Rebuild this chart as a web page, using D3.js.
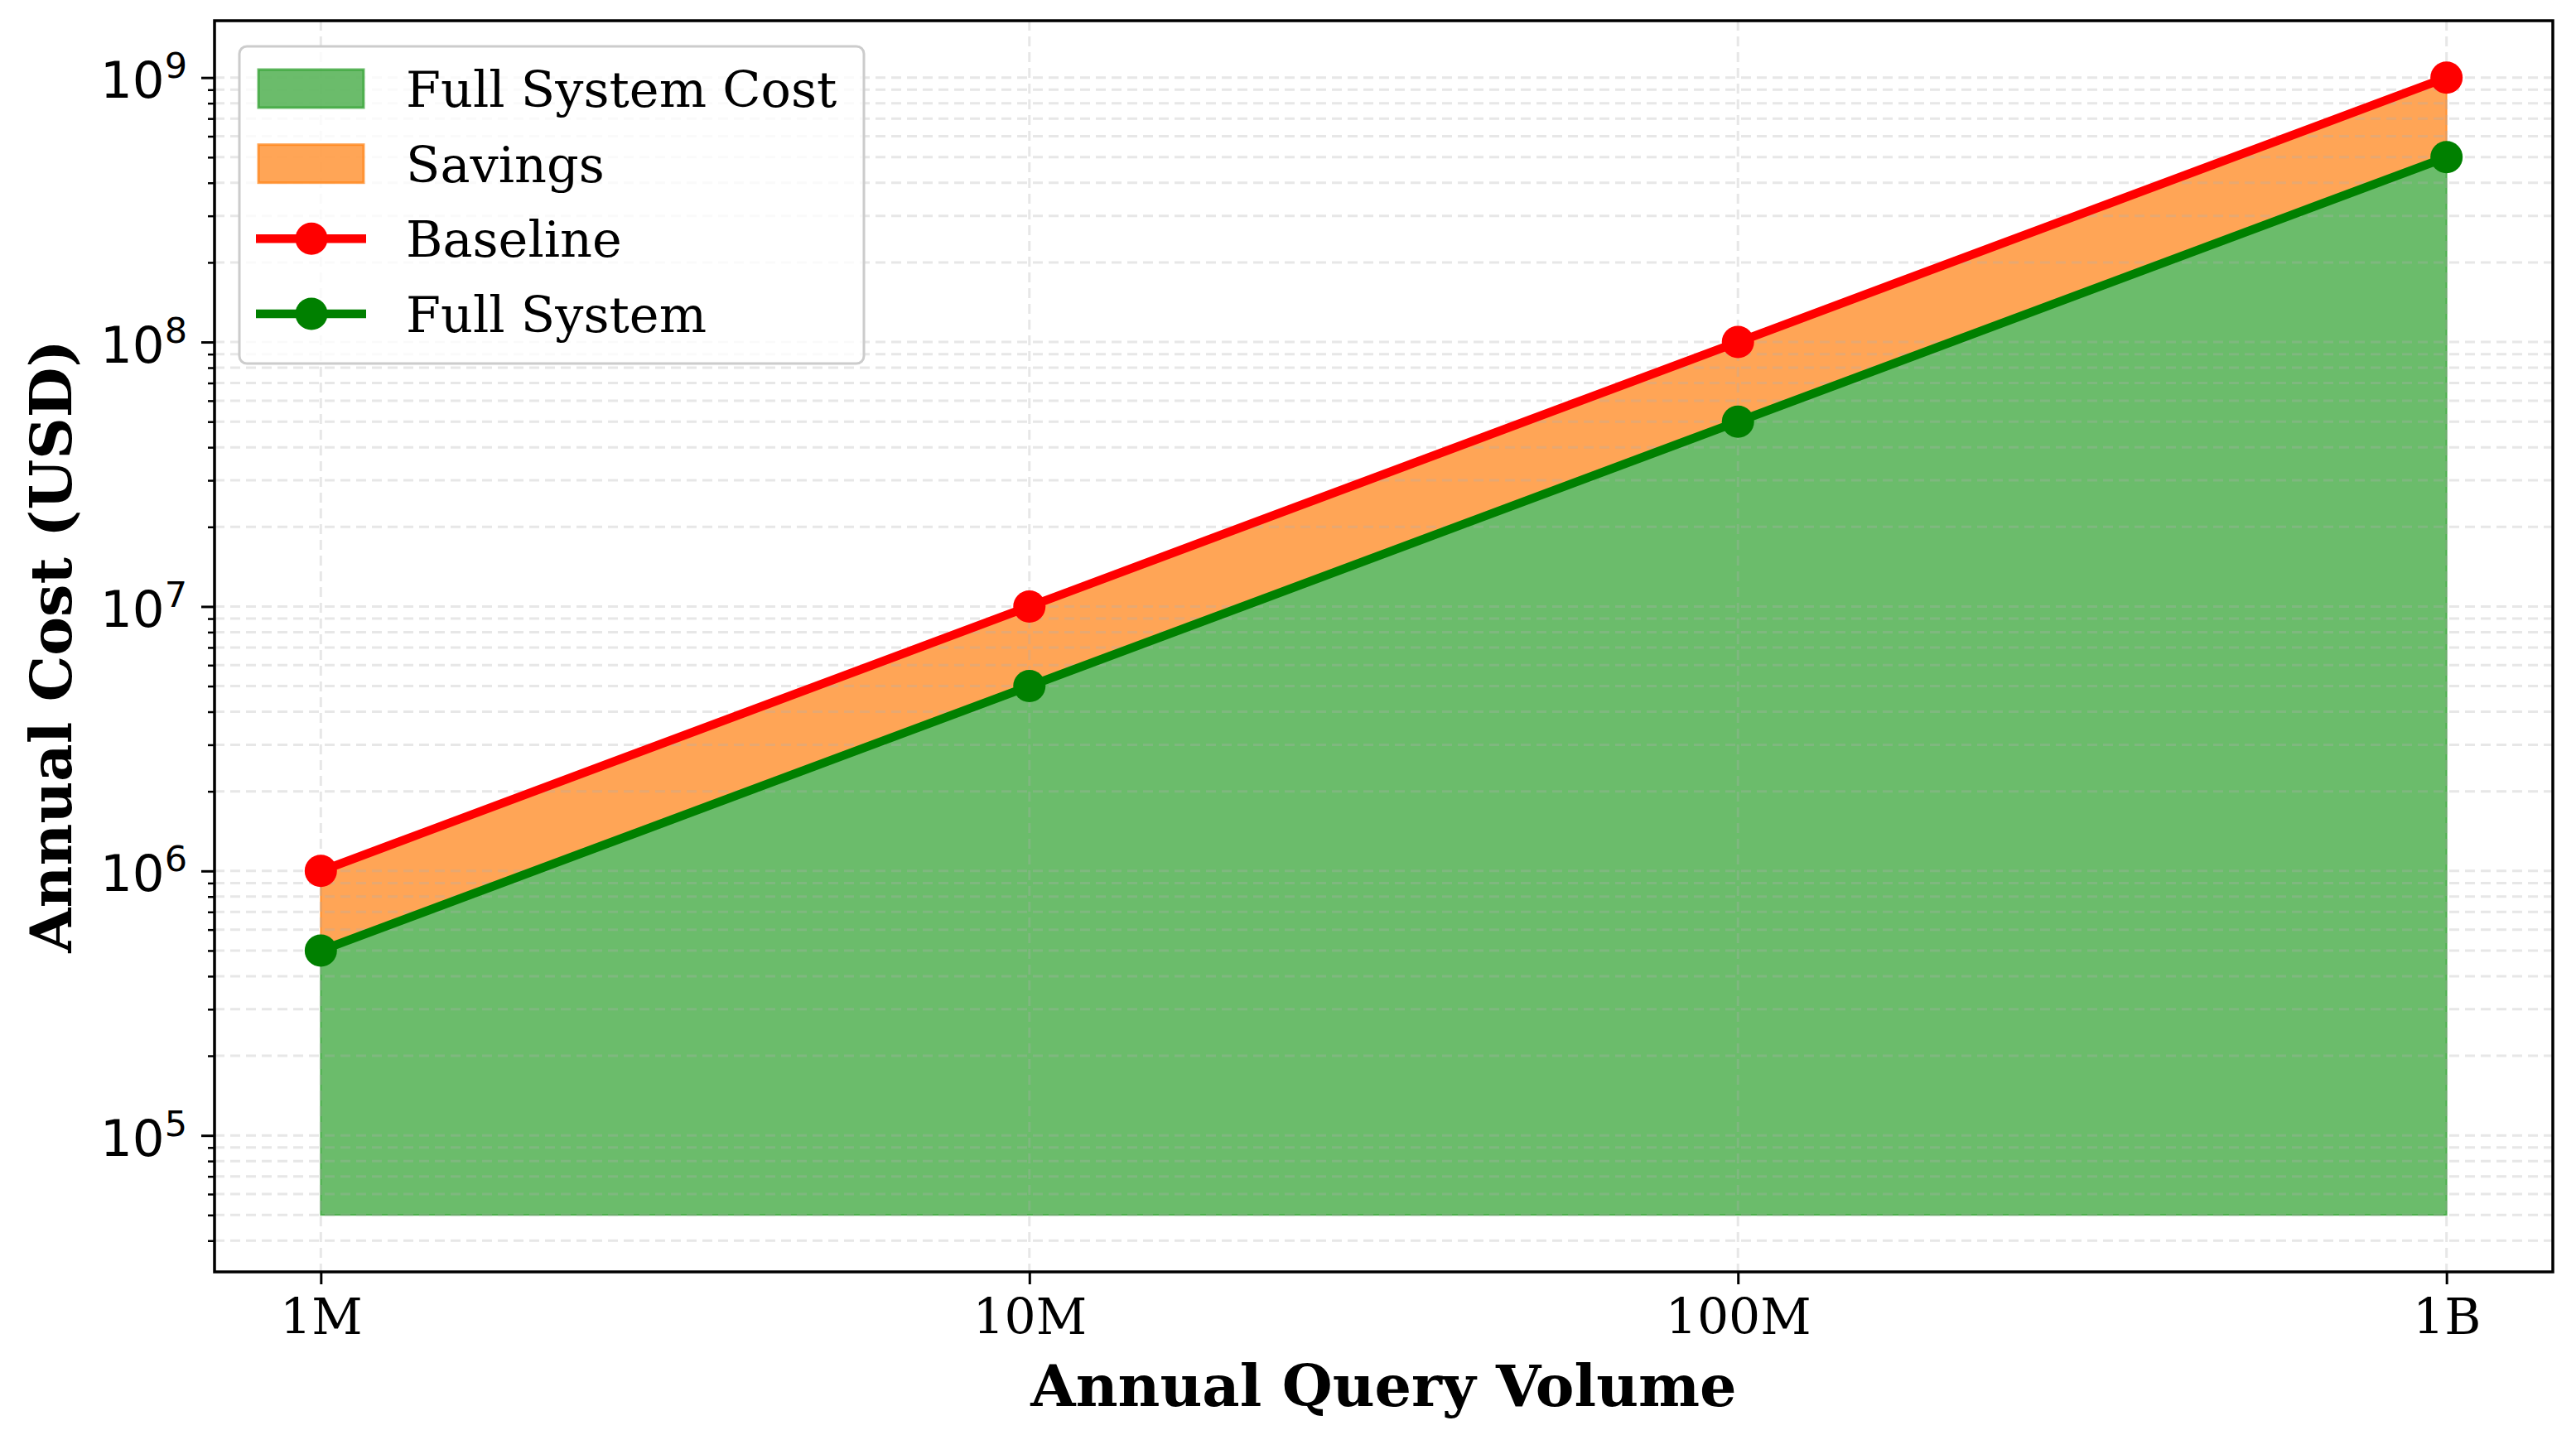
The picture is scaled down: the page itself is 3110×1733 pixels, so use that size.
<!DOCTYPE html>
<html>
<head>
<meta charset="utf-8">
<script src="https://cdn.jsdelivr.net/npm/d3@7"></script>
<style>
  html, body { margin: 0; padding: 0; background: #ffffff; }
  svg { display: block; }
</style>
</head>
<body>
<div id="chart"></div>
<script>
// data
var volumes = [1e6, 1e7, 1e8, 1e9];
var volumeLabels = ["1M", "10M", "100M", "1B"];
var baselineCost = [1e6, 1e7, 1e8, 1e9];
var fullSystemCost = [5e5, 5e6, 5e7, 5e8];
var fillFloor = 5e4;
var costTickExps = [5, 6, 7, 8, 9];
var legendNames = ["Full System Cost", "Savings", "Baseline", "Full System"];

var W = 3110, H = 1733;
// plot box (window.top is taken, so use own names)
var pL = 259, pR = 3082, pT = 25, pB = 1536;
var lineW = 10.5;

var svg = d3.select('#chart').append('svg')
  .attr('width', W)
  .attr('height', H)
  .attr('viewBox', '0 0 ' + W + ' ' + H);

// log domains with 5% padding like matplotlib autoscale
var padLog = function (lo, hi) {
  var a = Math.log10(lo), b = Math.log10(hi), m = (b - a) * 0.05;
  return [Math.pow(10, a - m), Math.pow(10, b + m)];
}

var x = d3.scaleLog().domain(padLog(d3.min(volumes), d3.max(volumes))).range([pL, pR]);
var y = d3.scaleLog().domain(padLog(fillFloor, d3.max(baselineCost))).range([pB, pT]);

var rows = volumes.map(function (v, i) {
  return {v: v, base: baselineCost[i], full: fullSystemCost[i]};
});

var plot = svg.append('g');

// fills
var greenFill = d3.area()
  .x(function (d) { return x(d.v); })
  .y0(function (d) { return y(fillFloor); })
  .y1(function (d) { return y(d.full); });
var orangeFill = d3.area()
  .x(function (d) { return x(d.v); })
  .y0(function (d) { return y(d.full); })
  .y1(function (d) { return y(d.base); });

plot.append('path').datum(rows)
  .attr('d', greenFill)
  .attr('fill', '#2ca02c').attr('fill-opacity', 0.7)
  .attr('stroke', '#2ca02c').attr('stroke-opacity', 0.7).attr('stroke-width', 2);
plot.append('path').datum(rows)
  .attr('d', orangeFill)
  .attr('fill', '#ff7f0e').attr('fill-opacity', 0.7)
  .attr('stroke', '#ff7f0e').attr('stroke-opacity', 0.7).attr('stroke-width', 2);

// grid (over fills, under lines)
var grid = plot.append('g');
var yGridVals = y.ticks().filter(function (t) {
  return y(t) >= pT && y(t) <= pB;
});
grid.selectAll('line.hg')
  .data(yGridVals)
  .enter()
  .append('line')
  .attr('class', 'hg')
  .attr('x1', pL).attr('x2', pR)
  .attr('y1', function (d) { return y(d); })
  .attr('y2', function (d) { return y(d); })
  .attr('stroke', '#b0b0b0').attr('stroke-opacity', 0.3)
  .attr('stroke-width', 3).attr('stroke-dasharray', '12,7');
grid.selectAll('line.vg')
  .data(volumes)
  .enter()
  .append('line')
  .attr('class', 'vg')
  .attr('y1', pT).attr('y2', pB)
  .attr('x1', function (d) { return x(d); })
  .attr('x2', function (d) { return x(d); })
  .attr('stroke', '#b0b0b0').attr('stroke-opacity', 0.3)
  .attr('stroke-width', 3).attr('stroke-dasharray', '12,7');

// lines + markers
var series = [
  {key: 'base', color: '#ff0000'},
  {key: 'full', color: '#008000'}
];
series.forEach(function (s) {
  var line = d3.line()
    .x(function (d) { return x(d.v); })
    .y(function (d) { return y(d[s.key]); });
  plot.append('path').datum(rows)
    .attr('d', line)
    .attr('fill', 'none')
    .attr('stroke', s.color)
    .attr('stroke-width', lineW)
    .attr('stroke-linejoin', 'round');
  plot.selectAll('circle.m' + s.key)
    .data(rows)
    .enter()
    .append('circle')
    .attr('class', 'm' + s.key)
    .attr('cx', function (d) { return x(d.v); })
    .attr('cy', function (d) { return y(d[s.key]); })
    .attr('r', 19.5)
    .attr('fill', s.color);
});

// axes
var xAxis = d3.axisBottom(x)
  .tickValues(volumes)
  .tickFormat(function (d, i) { return volumeLabels[i]; })
  .tickSize(15)
  .tickPadding(17);
var gx = svg.append('g')
  .attr('transform', 'translate(0,' + pB + ')')
  .call(xAxis);
gx.select('.domain').remove();
gx.selectAll('line').attr('stroke', '#000').attr('stroke-width', 3);
gx.selectAll('text')
  .attr('font-family', 'DejaVu Serif')
  .attr('font-size', 60)
  .attr('fill', '#000');

var isMajor = function (t) {
  var l = Math.log10(t);
  return Math.abs(l - Math.round(l)) < 1e-6;
}
var minorY = yGridVals.filter(function (t) { return !isMajor(t); });
var gyMinor = svg.append('g')
  .attr('transform', 'translate(' + pL + ',0)')
  .call(d3.axisLeft(y).tickValues(minorY).tickSize(8).tickFormat(''));
gyMinor.select('.domain').remove();
gyMinor.selectAll('line').attr('stroke', '#000').attr('stroke-width', 2.5);

var gy = svg.append('g')
  .attr('transform', 'translate(' + pL + ',0)')
  .call(d3.axisLeft(y)
    .tickValues(costTickExps.map(function (e) { return Math.pow(10, e); }))
    .tickSize(16)
    .tickFormat(''));
gy.select('.domain').remove();
gy.selectAll('line').attr('stroke', '#000').attr('stroke-width', 3);
gy.selectAll('.tick').each(function (d) {
  var t = d3.select(this).append('text')
    .attr('x', -33)
    .attr('y', 24)
    .attr('text-anchor', 'end')
    .attr('font-family', 'DejaVu Sans')
    .attr('font-size', 61)
    .attr('fill', '#000');
  t.append('tspan').text('10');
  t.append('tspan')
    .attr('font-size', 43)
    .attr('dy', -24)
    .text(Math.round(Math.log10(d)));
});

// frame
svg.append('rect')
  .attr('x', pL).attr('y', pT)
  .attr('width', pR - pL).attr('height', pB - pT)
  .attr('fill', 'none')
  .attr('stroke', '#000')
  .attr('stroke-width', 3.5);

// axis titles
svg.append('text')
  .attr('x', (pL + pR) / 2)
  .attr('y', 1698)
  .attr('text-anchor', 'middle')
  .attr('font-family', 'DejaVu Serif')
  .attr('font-weight', 'bold')
  .attr('font-size', 70)
  .text('Annual Query Volume');
svg.append('text')
  .attr('transform', 'translate(86,' + ((pT + pB) / 2) + ') rotate(-90)')
  .attr('text-anchor', 'middle')
  .attr('font-family', 'DejaVu Serif')
  .attr('font-weight', 'bold')
  .attr('font-size', 70)
  .text('Annual Cost (USD)');

// legend
var lg = svg.append('g');
lg.append('rect')
  .attr('x', 289).attr('y', 56)
  .attr('width', 754).attr('height', 383)
  .attr('rx', 9)
  .attr('fill', '#fff').attr('fill-opacity', 0.8)
  .attr('stroke', '#cccccc').attr('stroke-width', 3);

var legendItems = [
  {name: legendNames[0], type: 'patch', color: '#2ca02c'},
  {name: legendNames[1], type: 'patch', color: '#ff7f0e'},
  {name: legendNames[2], type: 'line', color: '#ff0000'},
  {name: legendNames[3], type: 'line', color: '#008000'}
];
var rowY = d3.scaleLinear().domain([0, 3]).range([107, 379]);
legendItems.forEach(function (it, i) {
  var cy = rowY(i);
  if (it.type == 'patch') {
    lg.append('rect')
      .attr('x', 312).attr('y', cy - 23)
      .attr('width', 127).attr('height', 46)
      .attr('fill', it.color).attr('fill-opacity', 0.7)
      .attr('stroke', it.color).attr('stroke-opacity', 0.7).attr('stroke-width', 3);
  } else {
    lg.append('line')
      .attr('x1', 309).attr('x2', 442)
      .attr('y1', cy).attr('y2', cy)
      .attr('stroke', it.color).attr('stroke-width', lineW);
    lg.append('circle')
      .attr('cx', 376).attr('cy', cy).attr('r', 19.5)
      .attr('fill', it.color);
  }
  lg.append('text')
    .attr('x', 490).attr('y', cy + 22)
    .attr('font-family', 'DejaVu Serif')
    .attr('font-size', 60.5)
    .attr('fill', '#000')
    .text(it.name);
});
</script>
</body>
</html>
